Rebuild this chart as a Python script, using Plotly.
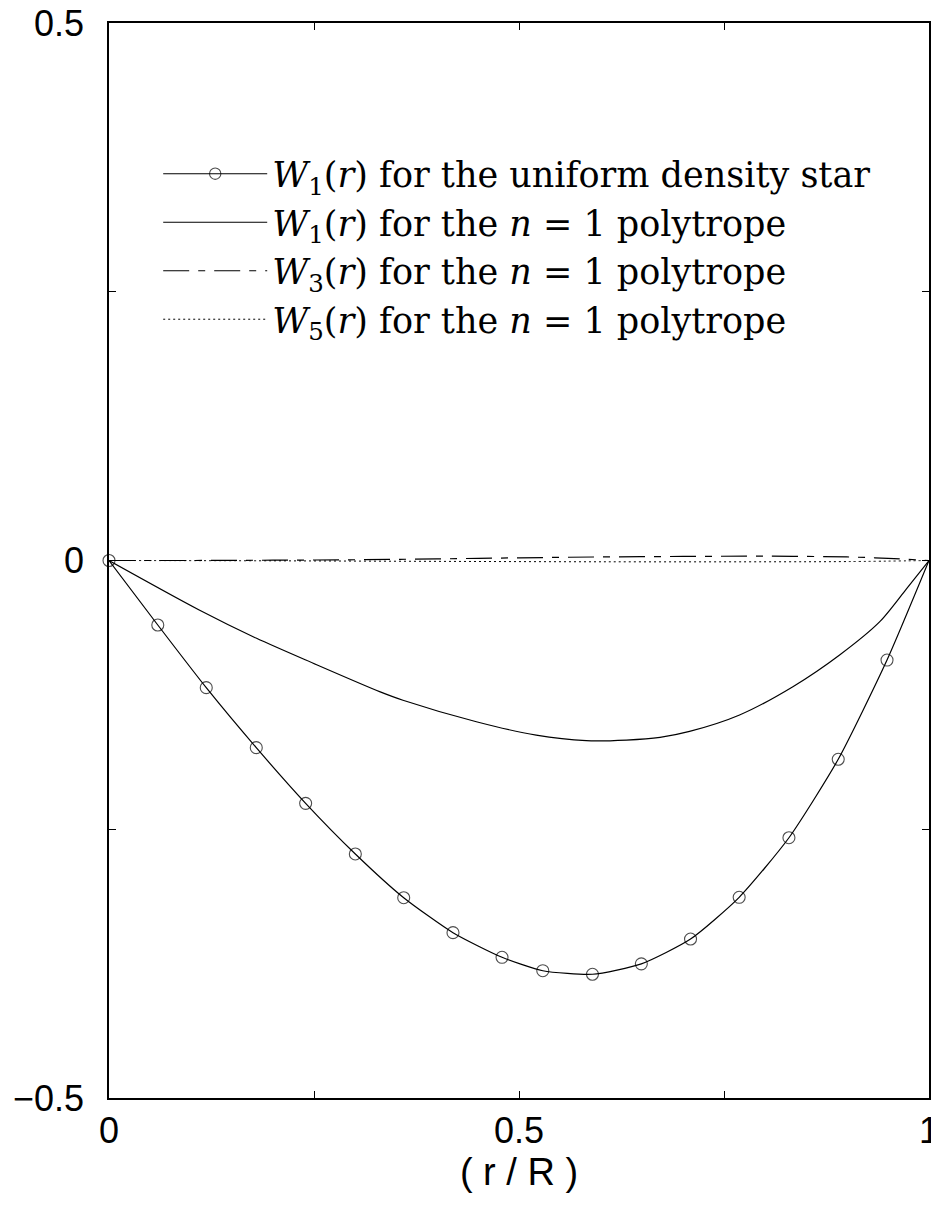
import plotly.graph_objects as go

# uniform density star, W1(r): open circles joined by a smooth line
uni_x = [0.0, 0.0595, 0.1186, 0.1796, 0.2398, 0.3004, 0.3594, 0.4195, 0.4793,
         0.5290, 0.5896, 0.6492, 0.7092, 0.7685, 0.8292, 0.8893, 0.9488, 1.0]
uni_y = [0.0, -0.0600, -0.1183, -0.1741, -0.2259, -0.2730, -0.3137, -0.3462, -0.3691,
         -0.3816, -0.3849, -0.3752, -0.3521, -0.3133, -0.2579, -0.1849, -0.0926, 0.0]

# n = 1 polytrope, W1(r)
poly1_x = [0.0, 0.110, 0.180, 0.249, 0.330, 0.3585, 0.448, 0.521, 0.582, 0.631,
           0.672, 0.708, 0.769, 0.834, 0.891, 0.940, 0.973, 1.0]
poly1_y = [0.0, -0.046, -0.0724, -0.0956, -0.122, -0.1300, -0.1500, -0.1625, -0.1676,
           -0.167, -0.1645, -0.159, -0.1437, -0.1174, -0.0879, -0.0569, -0.0259, 0.0]

# n = 1 polytrope, W3(r) and W5(r) (nearly zero)
w3_x = [0.0, 0.1, 0.2, 0.3, 0.4, 0.5, 0.6, 0.7, 0.8, 0.9, 0.95, 1.0]
w3_y = [0.0, 0.0, 0.0003, 0.0007, 0.0015, 0.0025, 0.0033, 0.0038, 0.0040, 0.0033, 0.0020, 0.0]
w5_x = [0.0, 0.2, 0.4, 0.6, 0.8, 0.9, 1.0]
w5_y = [0.0, -0.0003, -0.0008, -0.0012, -0.0012, -0.0010, 0.0]

names = [
    "<i>W</i><sub>1</sub>(<i>r</i>) for the uniform density star",
    "<i>W</i><sub>1</sub>(<i>r</i>) for the <i>n</i> = 1 polytrope",
    "<i>W</i><sub>3</sub>(<i>r</i>) for the <i>n</i> = 1 polytrope",
    "<i>W</i><sub>5</sub>(<i>r</i>) for the <i>n</i> = 1 polytrope",
]

msize = [12] * (len(uni_x) - 1) + [0]

fig = go.Figure()
fig.add_trace(go.Scatter(x=uni_x, y=uni_y, mode="lines+markers", name=names[0], cliponaxis=False,
                         line=dict(color="black", width=1.2, shape="spline", smoothing=0.6),
                         marker=dict(symbol="circle-open", size=msize, color="black",
                                     line=dict(width=1.1, color="black"))))
fig.add_trace(go.Scatter(x=poly1_x, y=poly1_y, mode="lines", name=names[1], cliponaxis=False,
                         line=dict(color="black", width=1.2, shape="spline", smoothing=0.8)))
fig.add_trace(go.Scatter(x=w3_x, y=w3_y, mode="lines", name=names[2], cliponaxis=False,
                         line=dict(color="black", width=1.2, shape="spline",
                                   dash="26px,9px,7px,9px")))
fig.add_trace(go.Scatter(x=w5_x, y=w5_y, mode="lines", name=names[3], cliponaxis=False,
                         line=dict(color="black", width=1.0, shape="spline", dash="2px,3px")))

axis_common = dict(
    showgrid=False, zeroline=False, showline=True, linecolor="black", linewidth=1.5,
    mirror="ticks", ticks="inside", ticklen=7, tickwidth=1.2, tickcolor="black",
    automargin=False, ticklabeloverflow="allow",
    tickfont=dict(family="Liberation Sans, Arial", size=36, color="black"),
    minor=dict(ticks="inside", ticklen=7, tickwidth=1.2, tickcolor="black", dtick=0.25),
)

fig.update_xaxes(range=[0, 1], tickvals=[0, 0.5, 1], ticktext=["0", "0.5", "1"],
                 ticklabelstandoff=0,
                 title=dict(text="(\u00a0r\u00a0/\u00a0R\u00a0)", standoff=0,
                            font=dict(family="Liberation Sans, Arial", size=38, color="black")),
                 **axis_common)
fig.update_yaxes(range=[-0.5, 0.5], tickvals=[-0.5, 0, 0.5], ticktext=["\u22120.5", "0", "0.5"],
                 ticklabelstandoff=16, **axis_common)

fig.update_layout(
    width=931, height=1209,
    margin=dict(l=109, r=2, t=23, b=111),
    plot_bgcolor="white", paper_bgcolor="white",
    showlegend=True,
    legend=dict(x=0.06, y=0.887, xanchor="left", yanchor="top",
                bgcolor="rgba(0,0,0,0)", itemwidth=104, tracegroupgap=0,
                font=dict(family="DejaVu Serif", size=35, color="black")),
)

# drop the default page margin so the figure fills the window exactly
fig.write_html("out.html", config={"displayModeBar": False}, post_script=(
    "document.body.style.margin='0';"
    "document.documentElement.style.overflow='hidden';"
    "document.body.style.overflow='hidden';"))
